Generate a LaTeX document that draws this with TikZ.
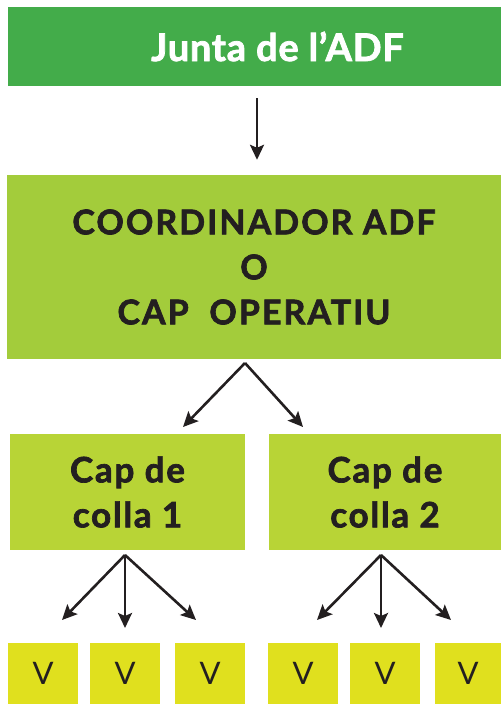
\documentclass[tikz,border=0pt]{standalone}
\usepackage{fontspec}
\setmainfont{Lato}[BoldFeatures={FakeBold=2}]
\usetikzlibrary{arrows.meta}
\definecolor{juntagreen}{HTML}{43AC4A}
\definecolor{coordgreen}{HTML}{A3CC3B}
\definecolor{collagreen}{HTML}{B8D436}
\definecolor{vyellow}{HTML}{E0E01E}
\definecolor{inkdark}{HTML}{231F20}
\tikzset{
  box/.style={rectangle, inner sep=0pt, align=center},
  juntabox/.style={box, fill=juntagreen, text=white, font=\bfseries\fontsize{38}{40}\selectfont\addfontfeature{LetterSpace=2}},
  coordbox/.style={box, fill=coordgreen, text=inkdark, font=\bfseries\fontsize{34}{45}\selectfont\addfontfeature{LetterSpace=6}},
  collabox/.style={box, fill=collagreen, text=inkdark, font=\bfseries\fontsize{35}{45}\selectfont\addfontfeature{LetterSpace=5}},
  vbox/.style={box, fill=vyellow, text=inkdark, minimum height=61pt, font=\fontsize{31}{32}\selectfont},
  arr/.style={-{Stealth[length=15pt,width=14pt,inset=3pt]}, line width=2.6pt, draw=inkdark},
}
\begin{document}
\begin{tikzpicture}[x=1pt,y=-1pt]
\useasboundingbox (0,0) rectangle (501,704);
\node[juntabox, minimum width=493pt, minimum height=79pt] (junta) at (254.5,46.5) {\hspace*{46pt}Junta de l’ADF};
\node[coordbox, minimum width=494pt, minimum height=184pt] (coord) at (254,267) {COORDINADOR ADF\\O\\CAP\ \ OPERATIU};
\node[collabox, minimum width=235pt, minimum height=116pt] (colla1) at (127.5,492) {Cap de\\colla 1};
\node[collabox, minimum width=232pt, minimum height=116pt] (colla2) at (385,492) {Cap de\\colla 2};
% voluntaris
\node[vbox, minimum width=70pt] (v1) at (43,673.5) {V};
\node[vbox, minimum width=70pt] (v2) at (125,673.5) {V};
\node[vbox, minimum width=70pt] (v3) at (210,673.5) {V};
\node[vbox, minimum width=70pt] (v4) at (303,673.5) {V};
\node[vbox, minimum width=70pt] (v5) at (385,673.5) {V};
\node[vbox, minimum width=66pt] (v6) at (468,673.5) {V};
% arrows
\draw[arr, shorten <=12pt, shorten >=15pt] (junta.south -| 257,0) -- (coord.north -| 257,0);
\coordinate (fork) at (245,363);
\coordinate (f1) at (183,427);
\coordinate (f2) at (303,427);
\draw[arr] (fork) -- (f1);
\draw[arr] (fork) -- (f2);
\coordinate (forkl) at (125,555);
\coordinate (fl1) at (62,620);
\coordinate (fl2) at (125,628);
\coordinate (fl3) at (196,620);
\foreach \t in {fl1,fl2,fl3} \draw[arr] (forkl) -- (\t);
\coordinate (forkr) at (381,555);
\coordinate (fr1) at (317,620);
\coordinate (fr2) at (381,628);
\coordinate (fr3) at (451,620);
\foreach \t in {fr1,fr2,fr3} \draw[arr] (forkr) -- (\t);
\end{tikzpicture}
\end{document}
